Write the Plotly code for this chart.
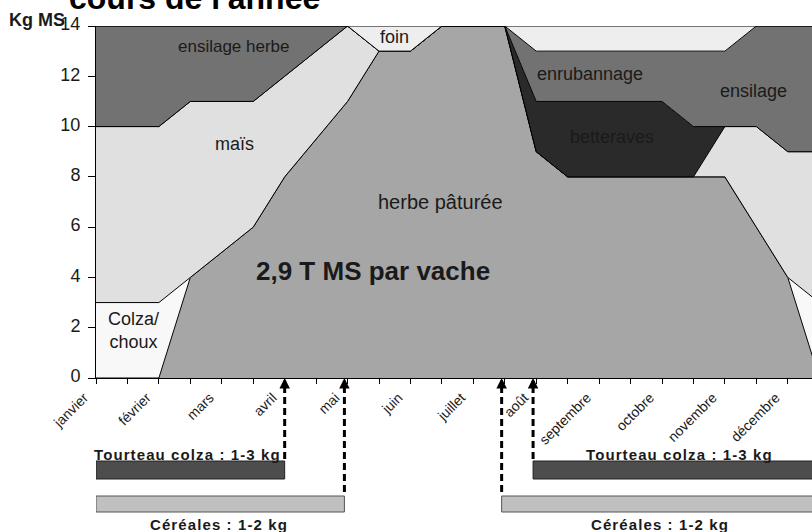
import plotly.graph_objects as go

# ---- data (kg MS per cow per day, half-month steps) ----
months = ["janvier", "février", "mars", "avril", "mai", "juin", "juillet",
          "août", "septembre", "octobre", "novembre", "décembre"]
herbe = [0, 0, 0, 4, 5, 6, 8, 9.5, 11, 13, 13, 14, 14, 14, 9, 8, 8, 8, 8, 8, 8, 6, 4, 0]
colza = [3, 3, 3, 0, 0, 0, 0, 0, 0, 0, 0, 0, 0, 0, 0, 0, 0, 0, 0, 0, 0, 0, 0, 3]
mais = [7, 7, 7, 7, 6, 5, 4, 3.5, 3, 0, 0, 0, 0, 0, 0, 0, 0, 0, 0, 0, 2, 4, 5, 6]
betteraves = [0, 0, 0, 0, 0, 0, 0, 0, 0, 0, 0, 0, 0, 0, 2, 3, 3, 3, 3, 2, 0, 0, 0, 0]
ensilage = [4, 4, 4, 3, 3, 3, 2, 1, 0, 0, 0, 0, 0, 0, 2, 2, 2, 2, 2, 3, 3, 4, 5, 5]
foin = [0, 0, 0, 0, 0, 0, 0, 0, 0, 1, 1, 0, 0, 0, 1, 1, 1, 1, 1, 1, 1, 0, 0, 0]

# supplement periods (in half-month index units)
tourteau_periods = [(0, 6), (13.9, 24)]
cereales_periods = [(0, 7.9), (12.9, 24)]
tourteau_label = "Tourteau colza : 1-3 kg"
cereales_label = "Céréales : 1-2 kg"

x = list(range(len(herbe)))
ticktext = [months[i // 2] if i % 2 == 0 else "" for i in x]

FONT = "Liberation Sans, Arial, sans-serif"
TXT = "#1a1a1a"

# plot-area geometry helpers (pixels -> paper)
W, H = 812, 532
ML, MR, MT, MB = 96, 0, 26, 154
PH = H - MT - MB
PW = W - ML - MR


def py(p):
    return (H - MB - p) / PH


def px(p):
    return (p - ML) / PW


fig = go.Figure()
series = [
    ("herbe pâturée", herbe, "#A6A6A6"),
    ("Colza/choux", colza, "#F8F8F8"),
    ("maïs", mais, "#E0E0E0"),
    ("betteraves", betteraves, "#2A2A2A"),
    ("ensilage herbe", ensilage, "#727272"),
    ("foin", foin, "#EEEEEE"),
]
for name, vals, col in series:
    fig.add_trace(go.Scatter(
        x=x, y=vals, name=name, stackgroup="one", mode="lines",
        line=dict(color="black", width=1), fillcolor=col,
        hoverinfo="skip", showlegend=False))

annotations = []
# region labels (data coordinates)
region_labels = [
    ("ensilage herbe", 4.4, 13.2, 17, False),
    ("maïs", 4.42, 9.3, 18, False),
    ("foin", 9.48, 13.55, 18, False),
    ("herbe pâturée", 10.97, 7.0, 20, False),
    ("2,9 T MS par vache", 8.8, 4.25, 26, True),
    ("Colza/<br>choux", 1.18, 1.9, 18, False),
    ("enrubannage", 15.7, 12.1, 18, False),
    ("betteraves", 16.4, 9.6, 18, False),
    ("ensilage", 20.92, 11.4, 18, False),
]
for t, xx, yy, sz, bold in region_labels:
    annotations.append(dict(
        x=xx, y=yy, xref="x", yref="y", text=f"<b>{t}</b>" if bold else t,
        showarrow=False, xanchor="center", yanchor="middle",
        font=dict(family=FONT, size=sz, color=TXT)))

shapes = []
bar_specs = [
    (tourteau_periods, 461, 479, "#4D4D4D", "#222222", tourteau_label, 454),
    (cereales_periods, 496, 512, "#C0C0C0", "#555555", cereales_label, 524),
]
label_x = {tourteau_label: [2.9, 18.55], cereales_label: [3.9, 17.95]}
for periods, top, bot, fill, border, label, ly in bar_specs:
    for k, (a, b) in enumerate(periods):
        shapes.append(dict(type="rect", xref="x", yref="paper",
                           x0=a, x1=b, y0=py(bot), y1=py(top),
                           fillcolor=fill, line=dict(color=border, width=1)))
        # arrow position: end of the first period, start of the second
        xa = b if k == 0 else a
        shapes.append(dict(type="line", xref="x", yref="paper",
                           x0=xa, x1=xa, y0=py(386), y1=py(top),
                           line=dict(color="black", width=3, dash="7px,4px")))
        annotations.append(dict(x=xa, y=0, xref="x", yref="y", text="",
                                showarrow=True, arrowhead=2, arrowsize=0.7,
                                arrowwidth=3, arrowcolor="black",
                                ax=0, ay=10, standoff=0))
        annotations.append(dict(
            x=label_x[label][k], y=py(ly), xref="x", yref="paper",
            xanchor="center", yanchor="middle",
            text=f"<b><span style='letter-spacing:1.1px'>{label}</span></b>",
            showarrow=False, font=dict(family=FONT, size=15, color=TXT)))

# axis title and (cropped) chart title
annotations.append(dict(x=px(37), y=py(20), xref="paper", yref="paper",
                        xanchor="center", yanchor="middle",
                        text="<b>Kg MS</b>", showarrow=False,
                        font=dict(family=FONT, size=18, color=TXT)))
annotations.append(dict(x=px(67), y=py(-22), xref="paper", yref="paper",
                        xanchor="left", yanchor="top",
                        text="<b>cours de l'année</b>",
                        showarrow=False,
                        font=dict(family=FONT, size=32, color="black")))

fig.update_layout(
    template="none",
    width=W, height=H,
    margin=dict(l=ML, r=MR, t=MT, b=MB, pad=0),
    paper_bgcolor="white", plot_bgcolor="white",
    showlegend=False,
    shapes=shapes,
    annotations=annotations,
    xaxis=dict(range=[0, 22.77], tickmode="array", tickvals=x, ticktext=ticktext,
               tickangle=-45, ticks="outside", ticklen=5, tickcolor="black",
               ticklabelshift=-12,
               showline=True, linecolor="black", linewidth=1, showgrid=False,
               zeroline=False, automargin=False,
               tickfont=dict(family=FONT, size=14, color=TXT)),
    yaxis=dict(range=[0, 14], tick0=0, dtick=2, ticks="outside", ticklen=7,
               tickcolor="black", showline=True, linecolor="black", linewidth=1,
               ticklabelstandoff=4, ticklabelshift=-2,
               showgrid=False, zeroline=False, automargin=False,
               tickfont=dict(family=FONT, size=18, color=TXT)),
)

fig.write_html("out.html", config={"displayModeBar": False},
               post_script="document.body.style.margin='0px';")
